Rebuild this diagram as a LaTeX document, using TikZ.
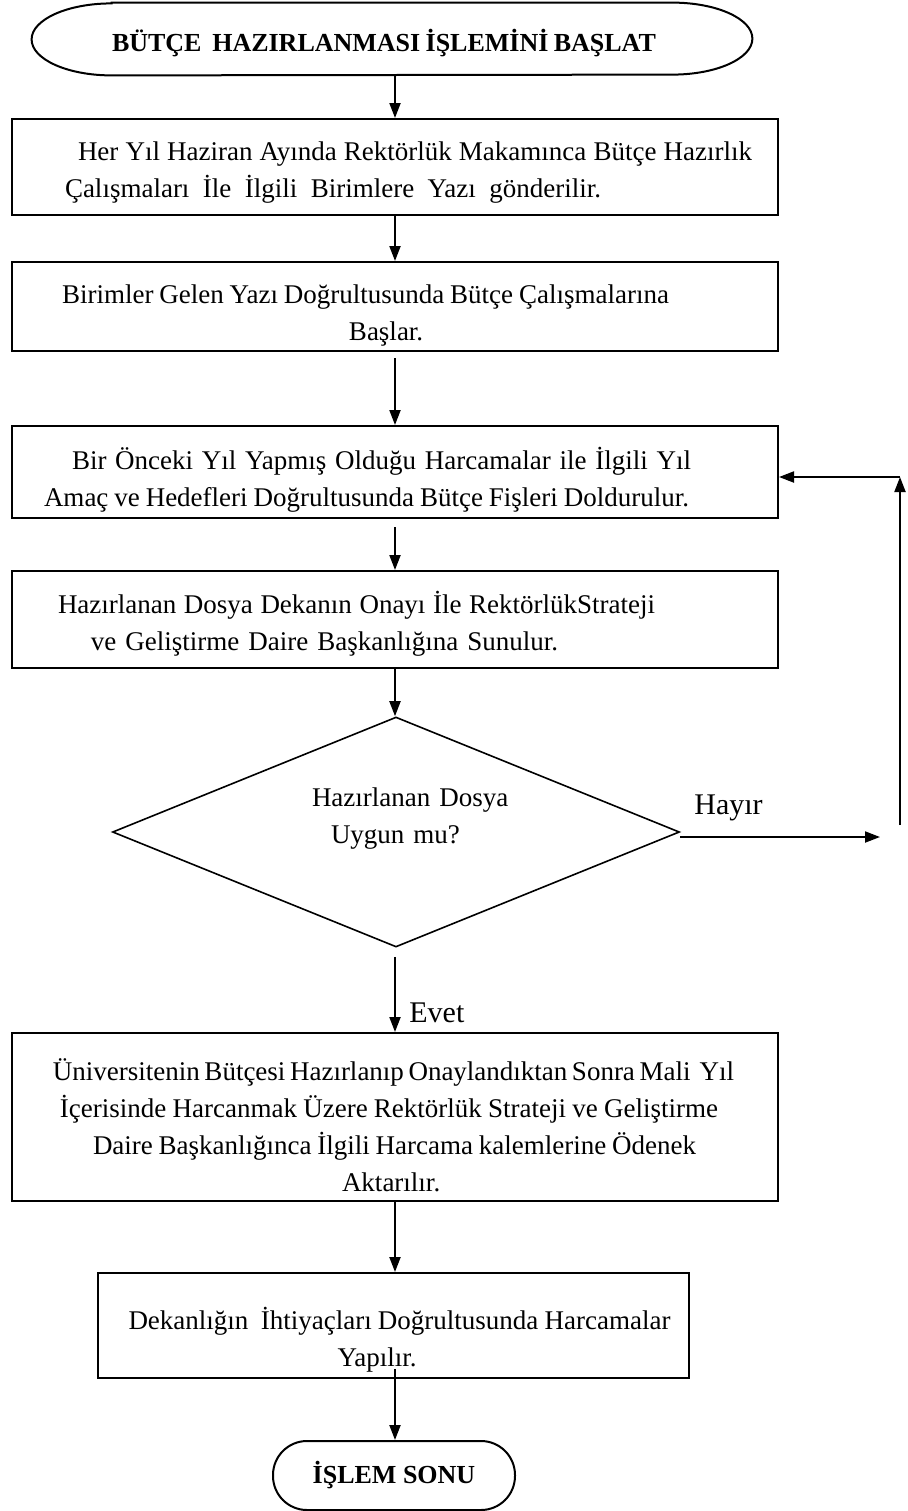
\documentclass[tikz,border=0pt]{standalone}
\usepackage{fontspec}
\setmainfont{Liberation Serif}
\usetikzlibrary{arrows.meta,shapes.geometric,calc}
% one line of text set to an exact width; word spaces stretch or shrink to fit
\newcommand\fitline[2]{\hbox to #1{\spaceskip=0.25em plus 1fil minus 0.2em\relax #2}}
% invisible strut that sets the height of a first line (moves a text block down)
\newcommand\lift[1]{\rule{0pt}{#1}}
\begin{document}
\begin{tikzpicture}[x=0.5pt,y=-0.5pt,
  txt/.style={font=\fontsize{13.5pt}{18.5pt}\selectfont},
  lbl/.style={font=\fontsize{15pt}{17pt}\selectfont, inner sep=0pt},
  proc/.style={draw, line width=1pt, rectangle, inner xsep=0pt, inner ysep=0pt,
    text width=#1, align=left, txt},
  term/.style={inner sep=0pt, font=\bfseries\fontsize{13pt}{15pt}\selectfont},
  arr/.style={-{Triangle[length=7.5pt,width=5.5pt]}, line width=1pt},
]
\useasboundingbox (0,0) rectangle (907,1511);

% start terminal: flat ellipse-ended outline drawn around the node
\node[minimum width=360pt, minimum height=36pt, inner sep=0pt] (start) at (392,39) {};
\draw[line width=1pt]
  ($(start.north west)+(80,0)$) -- ($(start.north east)+(-80,0)$)
  arc[start angle=90, end angle=-90, x radius=40pt, y radius=18pt]
  -- ($(start.south west)+(80,0)$)
  arc[start angle=270, end angle=90, x radius=40pt, y radius=18pt] -- cycle;
\node[term] (starttext) at (384,43)
  {\fitline{272pt}{BÜTÇE\ \ HAZIRLANMASI İŞLEMİNİ BAŞLAT}};

% process boxes
\node[proc=383pt, minimum height=48pt] (box1) at (395,167)
  {\lift{15.3pt}\hspace*{33pt}\fitline{337pt}{Her Yıl Haziran Ayında Rektörlük Makamınca Bütçe Hazırlık}\\
   \hspace*{26.5pt}\fitline{268pt}{Çalışmaları İle İlgili Birimlere Yazı gönderilir.}};

\node[proc=383pt, minimum height=44.5pt] (box2) at (395,306.5)
  {\lift{18.8pt}\hspace*{25pt}\fitline{303.5pt}{Birimler Gelen Yazı Doğrultusunda Bütçe Çalışmalarına}\\
   \hspace*{168.5pt}Başlar.};

\node[proc=383pt, minimum height=46pt] (box3) at (395,472)
  {\lift{19pt}\hspace*{30pt}\fitline{309.5pt}{Bir Önceki Yıl Yapmış Olduğu Harcamalar ile İlgili Yıl}\\
   \hspace*{16pt}\fitline{322.5pt}{Amaç ve Hedefleri Doğrultusunda Bütçe Fişleri Doldurulur.}};

\node[proc=383pt, minimum height=48.5pt] (box4) at (395,619.5)
  {\lift{15.7pt}\hspace*{23pt}\fitline{298.5pt}{Hazırlanan Dosya Dekanın Onayı İle RektörlükStrateji}\\
   \hspace*{39.5pt}\mbox{ve Geliştirme Daire Başkanlığına Sunulur.}};

% decision
\node[diamond, draw, line width=0.8pt, minimum width=283.5pt, minimum height=115pt,
  inner sep=0pt] (dec) at (396,832) {};
\node[txt, align=left, inner sep=0pt, text width=110pt] (dectext) at (422,819)
  {\mbox{Hazırlanan Dosya}\\
   \hspace*{9.5pt}\mbox{Uygun mu?}};

\node[proc=383pt, minimum height=84pt] (box5) at (395,1117)
  {\lift{19.6pt}\hspace*{20.5pt}\fitline{340.5pt}{Üniversitenin Bütçesi Hazırlanıp Onaylandıktan Sonra Mali\ \ Yıl}\\
   \hspace*{24pt}\fitline{329pt}{İçerisinde Harcanmak Üzere Rektörlük Strateji ve Geliştirme}\\
   \hspace*{40.5pt}\fitline{301.5pt}{Daire Başkanlığınca İlgili Harcama kalemlerine Ödenek}\\
   \hspace*{165pt}Aktarılır.};

\node[proc=295.5pt, minimum height=52.5pt] (box6) at (393,1325.5)
  {\lift{25.2pt}\hspace*{15.5pt}\fitline{271pt}{Dekanlığın\ \ İhtiyaçları Doğrultusunda Harcamalar}\\
   \hspace*{120pt}Yapılır.};

% end terminal
\node[term, draw, line width=1pt, rounded corners=17pt, minimum width=121pt,
  minimum height=34.5pt] (stop) at (394,1475.5) {İŞLEM SONU};

% main flow
\draw[arr] (start.south -| box1.north) -- (box1.north);
\draw[arr] (box1.south) -- (box2.north);
\draw[arr, shorten <=3pt] (box2.south) -- (box3.north);
\draw[arr, shorten <=4pt] (box3.south) -- (box4.north);
\draw[arr] (box4.south) -- (box4.south |- dec.north);
\draw[arr, shorten <=4.5pt] (dec.south -| box5.north) -- (box5.north);
\node[lbl, anchor=west] (evet) at (409,1013) {Evet};
\draw[arr] (box5.south) -- (box5.south |- box6.north);
\draw[arr, shorten <=-5pt] (box5.south |- box6.south) -- (box5.south |- stop.north);

% rejection loop back to the budget form step
\coordinate (hyE) at (880,837);
\coordinate (fbB) at (900,825);
\coordinate (fbT) at (900,477);
\draw[arr] ([yshift=-2.5pt]dec.east) -- (hyE);
\node[lbl, anchor=west] (hayir) at (694,808) {Hayır};
\draw[arr] (fbB) -- (fbT);
\draw[arr] (fbT) -- (fbT -| box3.east);
\end{tikzpicture}
\end{document}
